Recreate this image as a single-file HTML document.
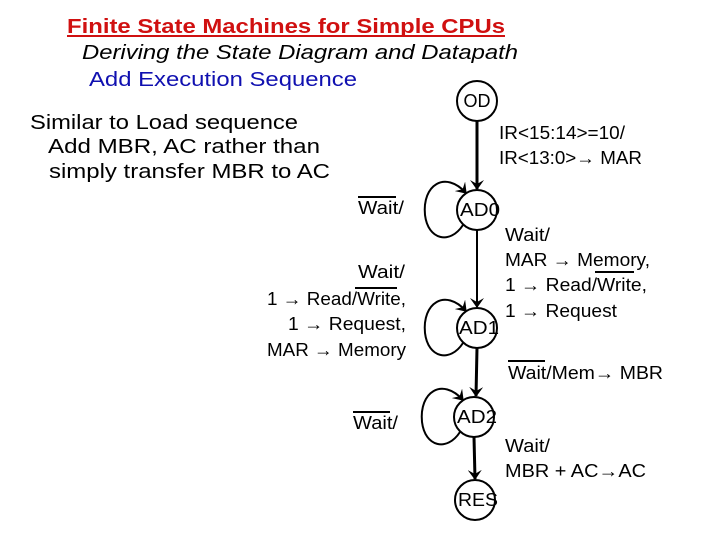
<!DOCTYPE html>
<html><head><meta charset="utf-8"><style>
html,body{margin:0;padding:0;background:#fff}
svg{display:block}
text{font-family:"Liberation Sans",sans-serif}
</style></head><body>
<svg width="720" height="540" viewBox="0 0 720 540" xmlns="http://www.w3.org/2000/svg">
<defs>
<marker id="ah" markerWidth="10" markerHeight="14" refX="9" refY="7" orient="auto" markerUnits="userSpaceOnUse">
<path d="M0,0 L10,7 L0,14 L4,7 Z" fill="#000"/>
</marker>
</defs>
<text x="67" y="33" font-size="20" font-weight="bold" fill="#d01010" textLength="438" lengthAdjust="spacingAndGlyphs">Finite State Machines for Simple CPUs</text>
<line x1="67" y1="36" x2="505" y2="36" stroke="#d01010" stroke-width="2"/>
<text x="82" y="59" font-size="20" font-style="italic" fill="#000" textLength="436" lengthAdjust="spacingAndGlyphs">Deriving the State Diagram and Datapath</text>
<text x="89" y="86" font-size="20" fill="#1010b0" textLength="268" lengthAdjust="spacingAndGlyphs">Add Execution Sequence</text>
<text x="30" y="129" font-size="20" textLength="268" lengthAdjust="spacingAndGlyphs">Similar to Load sequence</text>
<text x="48" y="153" font-size="20" textLength="272" lengthAdjust="spacingAndGlyphs">Add MBR, AC rather than</text>
<text x="49" y="178" font-size="20" textLength="281" lengthAdjust="spacingAndGlyphs">simply transfer MBR to AC</text>

<g fill="none" stroke="#000" stroke-width="2">
<circle cx="477" cy="101" r="20"/>
<circle cx="477" cy="210" r="20"/>
<circle cx="477" cy="328" r="20"/>
<circle cx="474" cy="417" r="20"/>
<circle cx="475" cy="500" r="20"/>
<line x1="477" y1="121" x2="477" y2="189" stroke-width="3" marker-end="url(#ah)"/>
<line x1="477" y1="230" x2="477" y2="307" marker-end="url(#ah)"/>
<line x1="477" y1="348" x2="476" y2="396" stroke-width="3" marker-end="url(#ah)"/>
<line x1="474" y1="437" x2="475" y2="479" stroke-width="3" marker-end="url(#ah)"/>
<path d="M463,225 C450,245 428,240 425,215 C422,185 445,170 466,193" marker-end="url(#ah)"/>
<path d="M463,343 C450,363 428,358 425,333 C422,303 445,288 466,311" marker-end="url(#ah)"/>
<path d="M460,432 C447,452 425,447 422,422 C419,392 442,377 463,400" marker-end="url(#ah)"/>
</g>
<g font-size="18" fill="#000">
<text x="477" y="107" text-anchor="middle">OD</text>
<text x="460" y="216" textLength="40" lengthAdjust="spacingAndGlyphs">AD0</text>
<text x="459" y="334" textLength="40" lengthAdjust="spacingAndGlyphs">AD1</text>
<text x="457" y="423" textLength="40" lengthAdjust="spacingAndGlyphs">AD2</text>
<text x="458" y="506" textLength="40" lengthAdjust="spacingAndGlyphs">RES</text>
</g>
<g font-size="18" fill="#000" lengthAdjust="spacingAndGlyphs">
<text x="499" y="139" textLength="126" lengthAdjust="spacingAndGlyphs">IR&lt;15:14&gt;=10/</text>
<text x="499" y="164" textLength="143" lengthAdjust="spacingAndGlyphs">IR&lt;13:0&gt;→ MAR</text>
<text x="358" y="214" textLength="46" lengthAdjust="spacingAndGlyphs">Wait/</text>
<line x1="358" y1="197" x2="396" y2="197" stroke="#000" stroke-width="2"/>
<text x="505" y="241" textLength="45" lengthAdjust="spacingAndGlyphs">Wait/</text>
<text x="505" y="266" textLength="145" lengthAdjust="spacingAndGlyphs">MAR → Memory,</text>
<text x="505" y="291" textLength="142" lengthAdjust="spacingAndGlyphs">1 → Read/Write,</text>
<line x1="595" y1="272" x2="634" y2="272" stroke="#000" stroke-width="2"/>
<text x="505" y="317" textLength="112" lengthAdjust="spacingAndGlyphs">1 → Request</text>
<text x="358" y="278" textLength="47" lengthAdjust="spacingAndGlyphs">Wait/</text>
<text x="267" y="305" textLength="139" lengthAdjust="spacingAndGlyphs">1 → Read/Write,</text>
<line x1="355" y1="288" x2="397" y2="288" stroke="#000" stroke-width="2"/>
<text x="288" y="330" textLength="118" lengthAdjust="spacingAndGlyphs">1 → Request,</text>
<text x="267" y="356" textLength="139" lengthAdjust="spacingAndGlyphs">MAR → Memory</text>
<text x="508" y="379" textLength="155" lengthAdjust="spacingAndGlyphs">Wait/Mem→ MBR</text>
<line x1="508" y1="361" x2="545" y2="361" stroke="#000" stroke-width="2"/>
<text x="353" y="429" textLength="45" lengthAdjust="spacingAndGlyphs">Wait/</text>
<line x1="353" y1="412" x2="390" y2="412" stroke="#000" stroke-width="2"/>
<text x="505" y="452" textLength="45" lengthAdjust="spacingAndGlyphs">Wait/</text>
<text x="505" y="477" textLength="141" lengthAdjust="spacingAndGlyphs">MBR + AC→AC</text>
</g>
</svg>
</body></html>
